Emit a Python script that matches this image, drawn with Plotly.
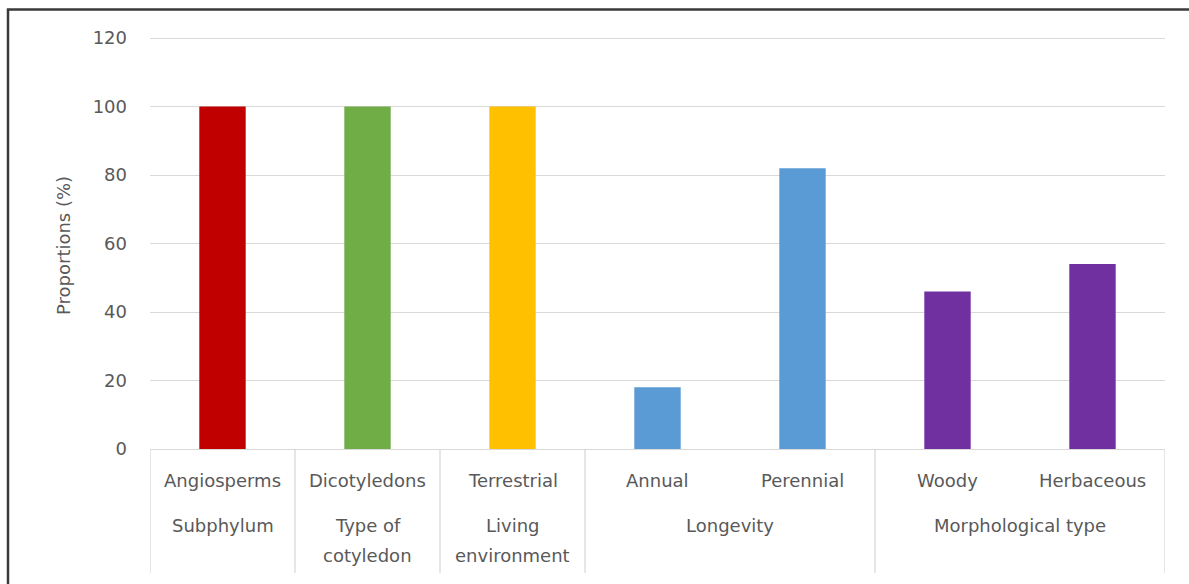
import plotly.graph_objects as go

# Plant traits and their proportions (%)
categories = ["Angiosperms", "Dicotyledons", "Terrestrial", "Annual", "Perennial", "Woody", "Herbaceous"]
proportions = [100, 100, 100, 18, 82, 46, 54]
bar_colors = ["#C00000", "#70AD47", "#FFC000", "#5B9BD5", "#5B9BD5", "#7030A0", "#7030A0"]

# Grouping of the categories (each group label may span several lines)
group_labels = [["Subphylum"], ["Type of", "cotyledon"], ["Living", "environment"],
                ["Longevity"], ["Morphological type"]]
group_sizes = [1, 1, 1, 2, 2]

y_ticks = [0, 20, 40, 60, 80, 100, 120]
y_title = "Proportions (%)"

FONT = "DejaVu Sans"
FS = 18
TEXT = "#595959"
GRID = "#D9D9D9"

W, H = 1189, 584
ML, MR, MT, MB = 150, 24, 37, 135
plot_h = H - MT - MB


def py(px):
    """Convert a pixel row into paper y."""
    return 1 - (px - MT) / plot_h


fig = go.Figure(
    go.Bar(
        x=categories,
        y=proportions,
        marker=dict(color=bar_colors, line=dict(width=0)),
        hoverinfo="x+y",
    )
)

shapes = []
annotations = []

# Category labels (first row under the axis)
for c in categories:
    annotations.append(dict(
        x=c, xref="x", y=py(480), yref="paper", text=c, showarrow=False,
        xanchor="center", yanchor="middle",
        font=dict(family=FONT, size=FS, color=TEXT),
    ))

# Group labels and dividers
start = 0
bottom = py(573)
shapes.append(dict(type="line", xref="x", yref="paper", x0=-0.5, x1=-0.5,
                   y0=0, y1=bottom, line=dict(color=GRID, width=1.3)))
for lines, n in zip(group_labels, group_sizes):
    centre = start + (n - 1) / 2
    for k, line in enumerate(lines):
        annotations.append(dict(
            x=centre, xref="x", y=py(525 + 30 * k), yref="paper", text=line,
            showarrow=False, xanchor="center", yanchor="middle",
            font=dict(family=FONT, size=FS, color=TEXT),
        ))
    end = start + n - 0.5
    shapes.append(dict(type="line", xref="x", yref="paper", x0=end, x1=end,
                       y0=0, y1=bottom, line=dict(color=GRID, width=1.3)))
    start += n

# Y axis title
annotations.append(dict(
    x=(63 - ML) / (W - ML - MR), xref="paper", y=py(246), yref="paper",
    text=y_title, textangle=-90, showarrow=False,
    xanchor="center", yanchor="middle",
    font=dict(family=FONT, size=FS, color=TEXT),
))

# Outer chart frame
shapes.append(dict(type="rect", xref="paper", yref="paper",
                   x0=(8 - ML) / (W - ML - MR), x1=1.2,
                   y0=-1, y1=py(9.5),
                   line=dict(color="#3A3A3A", width=2.5), fillcolor="rgba(0,0,0,0)",
                   layer="above"))

fig.update_layout(
    width=W, height=H,
    margin=dict(l=ML, r=MR, t=MT, b=MB),
    paper_bgcolor="white", plot_bgcolor="white",
    bargap=0.68,
    showlegend=False,
    shapes=shapes,
    annotations=annotations,
    xaxis=dict(
        type="category", showticklabels=False, showgrid=False, ticks="",
        showline=True, linecolor=GRID, linewidth=1.3, zeroline=False,
        range=[-0.5, len(categories) - 0.5], fixedrange=True,
    ),
    yaxis=dict(
        range=[0, 120.3], tickvals=y_ticks, ticks="", showline=False,
        showgrid=True, gridcolor=GRID, gridwidth=1.3, zeroline=False,
        tickfont=dict(family=FONT, size=FS, color=TEXT),
        ticklabelstandoff=22, fixedrange=True,
    ),
)

fig.write_html("out.html")
